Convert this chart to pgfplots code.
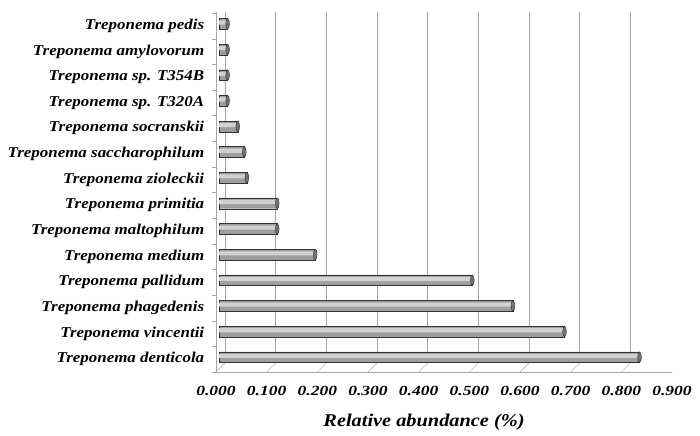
\documentclass[border=0pt]{standalone}
\usepackage{fontspec}
\setmainfont[FakeStretch=1.13]{Liberation Serif}
\newfontfamily\tickfont[FakeStretch=1.25]{Liberation Serif}
\usepackage{pgfplots}
\pgfplotsset{compat=1.18}

\begin{document}
\begin{tikzpicture}
\begin{axis}[name=ax, scale only axis, width=456pt, height=359pt,
  xmin=0, xmax=0.9, ymin=-0.5, ymax=13.5,
  axis x line*=bottom, axis y line*=left, axis line style={black!35},
  xtick={0,0.1,0.2,0.3,0.4,0.5,0.6,0.7,0.8,0.9},
  major x tick style={draw=none},
  xticklabel style={font=\tickfont\fontsize{14}{14}\selectfont\bfseries\itshape, yshift=-6pt,
    /pgf/number format/fixed, /pgf/number format/fixed zerofill,
    /pgf/number format/precision=3, /pgf/number format/assume math mode=true},
  ytick={0,...,13}, major y tick style={draw=none},
  minor ytick={-0.5,0.5,...,13.5}, minor tick length=4pt, tick align=outside,
  minor y tick style={black!35},
  yticklabels={Treponema denticola, Treponema vincentii, Treponema phagedenis,
    Treponema pallidum, Treponema medium, Treponema maltophilum, Treponema primitia,
    Treponema zioleckii, Treponema saccharophilum, Treponema socranskii,
    Treponema sp. T320A, Treponema sp. T354B, Treponema amylovorum, Treponema pedis},
  yticklabel style={font=\fontsize{15}{15}\selectfont\bfseries\itshape, xshift=-4pt},
  xlabel={Relative abundance (\%)},
  xlabel style={font=\fontsize{18}{18}\selectfont\bfseries\itshape, yshift=-12pt, xshift=-20pt}]

% back wall grid and floor edges of the 3D box
\pgfplotsinvokeforeach{0,0.1,0.2,0.3,0.4,0.5,0.6,0.7,0.8,0.9}{
  \draw[black!35] ([shift={(9pt,9pt)}]axis cs:#1,-0.5) -- ([shift={(9pt,9pt)}]axis cs:#1,13.5);
  \draw[black!35] ([shift={(-3pt,-3pt)}]axis cs:#1,-0.5) -- ([shift={(9pt,9pt)}]axis cs:#1,-0.5);}
\draw[black!35] (axis cs:0,13.5) -- ++(9pt,9pt);

\addplot[xbar, bar width=0.42, draw=black!80, fill=black!38, xshift=3pt, yshift=2pt]
  coordinates {(0.830,0) (0.682,1) (0.580,2) (0.500,3) (0.190,4) (0.115,5) (0.115,6)
    (0.055,7) (0.050,8) (0.037,9) (0.017,10) (0.017,11) (0.017,12) (0.017,13)};
\addplot[xbar, bar width=0.16, bar shift=0.05, draw=none, fill=black!18, xshift=3pt, yshift=2pt]
  coordinates {(0.828,0) (0.680,1) (0.578,2) (0.498,3) (0.188,4) (0.113,5) (0.113,6)
    (0.053,7) (0.048,8) (0.035,9) (0.015,10) (0.015,11) (0.015,12) (0.015,13)};
\addplot[only marks, mark=*, mark size=5.3pt, mark options={xscale=0.35, fill=black!55, draw=black!85}, xshift=3pt, yshift=2pt]
  coordinates {(0.830,0) (0.682,1) (0.580,2) (0.500,3) (0.190,4) (0.115,5) (0.115,6)
    (0.055,7) (0.050,8) (0.037,9) (0.017,10) (0.017,11) (0.017,12) (0.017,13)};
\end{axis}
\pgfresetboundingbox
\path[use as bounding box] ([shift={(-216pt,-63pt)}]ax.south west) rectangle ([shift={(28pt,13pt)}]ax.north east);
\end{tikzpicture}
\end{document}
